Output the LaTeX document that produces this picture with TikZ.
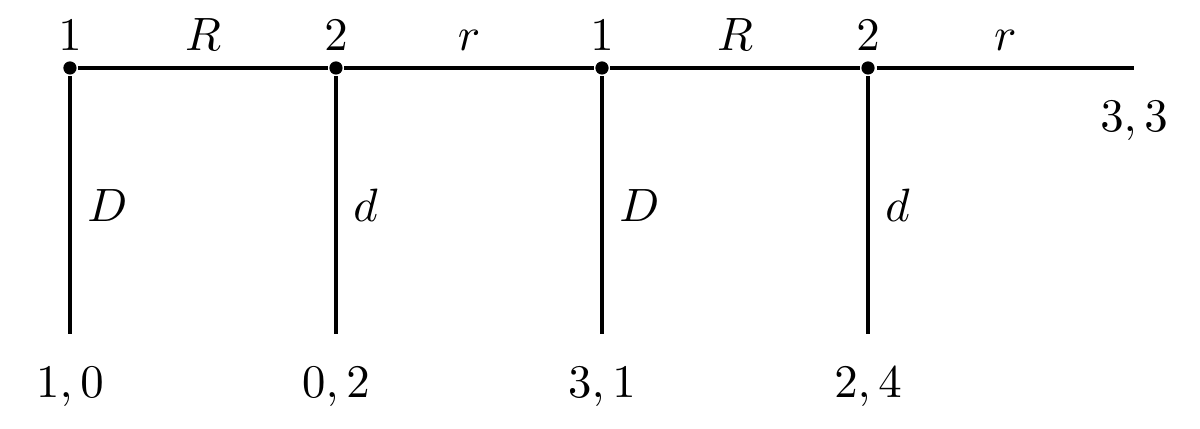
\documentclass[tikz,border=0pt]{standalone}
\usepackage{amsmath}
\usepackage{tikz}
\usetikzlibrary{calc}

\begin{document}
\begin{tikzpicture}[thick,
                    dot/.style={fill=black,circle,inner sep=1pt},
                    pay/.style={below=1.2mm}]
                    \useasboundingbox (-0.526,-2.707) rectangle (8.496,0.511);
                    \node[dot,name=a] at (0,0) {};
                    \node[dot,name=b] at (2,0) {};
                    \node[dot,name=c] at (4,0) {};
                    \node[dot,name=e] at (6,0) {};
                    \coordinate (a1) at (0,-2);
                    \coordinate (b1) at (2,-2);
                    \coordinate (c1) at (4,-2);
                    \coordinate (e1) at (6,-2);
                    \coordinate (z) at (8,0);
                    \draw (a) node[above] {$1$};
                    \draw (b) node[above] {$2$};
                    \draw (c) node[above] {$1$};
                    \draw (e) node[above] {$2$};
                    \draw (a) -- node[above] {$R$} (b) -- node[above] {$r$} (c) -- node[above] {$R$} (e) -- node[above] {$r$} (z);
                    \draw (a) -- node[right] {$D$} (a1);
                    \draw (b) -- node[right] {$d$} (b1);
                    \draw (c) -- node[right] {$D$} (c1);
                    \draw (e) -- node[right] {$d$} (e1);
                    \draw (a1) node[pay] {$1,0$};
                    \draw (b1) node[pay] {$0,2$};
                    \draw (c1) node[pay] {$3,1$};
                    \draw (e1) node[pay] {$2,4$};
                    \draw (z) node[pay] {$3,3$};
                \end{tikzpicture}
\end{document}
